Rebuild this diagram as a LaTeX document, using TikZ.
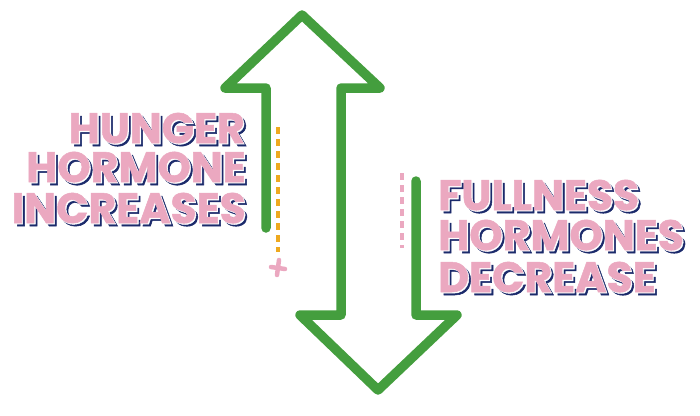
\documentclass[tikz,border=0pt]{standalone}
\usepackage{fontspec}
\newfontfamily\hfont{Poppins}[BoldFeatures={FakeBold=1.2}]
\definecolor{grn}{HTML}{449E3E}
\definecolor{pnk}{HTML}{EBA8C0}
\definecolor{nvy}{HTML}{1B2A6B}
\definecolor{org}{HTML}{EEA91F}
\tikzset{
  lbl/.style={font=\hfont\bfseries\fontsize{42.5}{44}\selectfont, inner sep=0pt, text=pnk},
  shd/.style={lbl, text=nvy},
  gap/.style={lbl, text=white},
  arrowline/.style={draw=grn, line width=9.5pt, line join=round, line cap=round},
  dashline/.style={line width=4.5pt, dash pattern=on 7pt off 5pt},
}
\usetikzlibrary{calc}
\newcommand{\shtxt}[4]{%
  \node[shd, anchor=#3] (#1s) at ($(#2)+(3,3)$) {#4};
  \node[gap, anchor=#3] (#1g) at ($(#2)+(1.2,1.2)$) {#4};
  \node[lbl, anchor=#3] (#1) at (#2) {#4};
}
\begin{document}
\begin{tikzpicture}[x=1pt,y=-1pt]
\useasboundingbox (0,0) rectangle (700,415);
% up arrow + shared shaft + down arrow
\draw[arrowline] (266,228) -- (266,88) -- (225,88) -- (302,15) -- (380,88) -- (341,88) -- (341,315)
  -- (300,315) -- (378,390) -- (457,315) -- (416,315) -- (416,181);
% dashed lines
\draw[dashline, draw=org] (278,127) -- (278,252);
\draw[dashline, draw=pnk] (402,173) -- (402,248);
\draw[pnk, line width=4.5pt, line cap=round] (271,267) -- (285,269) (279,260) -- (277,275);
% left labels
\shtxt{t1}{245,143}{base east}{HUNGER}
\shtxt{t2}{246,182}{base east}{HORMONE}
\shtxt{t3}{246,223}{base east}{INCREASES}
% right labels
\shtxt{t4}{438,210}{base west}{FULLNESS}
\shtxt{t5}{438,250}{base west}{HORMONES}
\shtxt{t6}{438,292}{base west}{DECREASE}
\end{tikzpicture}
\end{document}
